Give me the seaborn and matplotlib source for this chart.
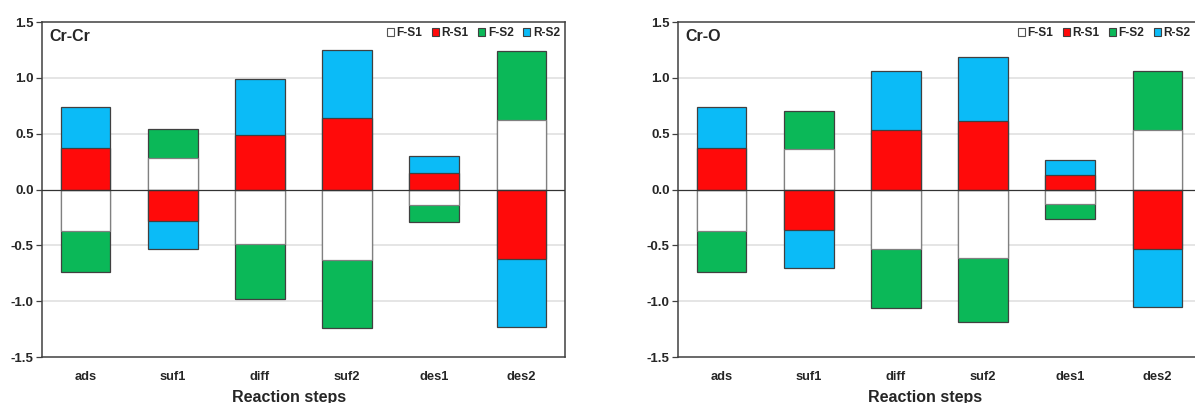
import numpy as np
import pandas as pd
import seaborn as sns
import matplotlib.pyplot as plt
from matplotlib.patches import Patch

steps = ['ads', 'suf1', 'diff', 'suf2', 'des1', 'des2']

# Cr-Cr segment values (S2 segments stack on top of S1 in the same direction)
crcr_fs1 = [-0.37, 0.28, -0.49, -0.63, -0.14, 0.62]
crcr_rs1 = [0.37, -0.28, 0.49, 0.64, 0.15, -0.62]
crcr_fs2 = [-0.37, 0.26, -0.49, -0.61, -0.15, 0.62]
crcr_rs2 = [0.37, -0.25, 0.50, 0.61, 0.15, -0.61]

# Cr-O segment values
cro_fs1 = [-0.37, 0.36, -0.53, -0.61, -0.13, 0.53]
cro_rs1 = [0.37, -0.36, 0.53, 0.61, 0.13, -0.53]
cro_fs2 = [-0.37, 0.34, -0.53, -0.58, -0.13, 0.53]
cro_rs2 = [0.37, -0.34, 0.53, 0.58, 0.13, -0.52]

panels = [('Cr-Cr', crcr_fs1, crcr_rs1, crcr_fs2, crcr_rs2),
          ('Cr-O', cro_fs1, cro_rs1, cro_fs2, cro_rs2)]

c_white = '#FFFFFF'
c_red = '#FF0A0A'
c_green = '#0BB858'
c_blue = '#0BBBF7'
edge = '#404040'

sns.set_theme(style='white')
plt.rcParams['font.family'] = ['Liberation Sans', 'DejaVu Sans']
plt.rcParams['font.weight'] = 'bold'

fig = plt.figure(figsize=(11.95, 4.03), dpi=100)
ax_l = fig.add_axes([42 / 1195, 46 / 403, 523 / 1195, 335 / 403])
ax_r = fig.add_axes([678 / 1195, 46 / 403, 523 / 1195, 335 / 403])

for ax, (name, fs1, rs1, fs2, rs2) in zip([ax_l, ax_r], panels):
    df = pd.DataFrame({'step': steps, 'fs1': fs1, 'rs1': rs1,
                       'fs2': fs2, 'rs2': rs2})
    df['f_tot'] = df['fs1'] + df['fs2']
    df['r_tot'] = df['rs1'] + df['rs2']

    for ycol, col, ec in [('f_tot', c_green, edge), ('r_tot', c_blue, edge),
                          ('fs1', c_white, '#808080'), ('rs1', c_red, edge)]:
        sns.barplot(data=df, x='step', y=ycol, order=steps, color=col,
                    width=0.57, edgecolor=ec, linewidth=0.9, saturation=1,
                    ax=ax, zorder=3)

    ax.set_ylim(-1.5, 1.5)
    ax.set_xlim(-0.5, 5.5)
    ax.set_yticks(np.arange(-1.5, 1.51, 0.5))
    ax.set_yticklabels([f'{v:.1f}' for v in np.arange(-1.5, 1.51, 0.5)],
                       fontsize=9.5, fontweight='bold')
    ax.set_xticks(range(len(steps)))
    ax.set_xticklabels(steps, fontsize=9.3, fontweight='bold')
    for v in [-1.0, -0.5, 0.5, 1.0]:
        ax.axhline(v, color='#e3e3e3', lw=1.3, zorder=1)
    ax.axhline(0, color='#333333', lw=0.9, zorder=4)
    ax.tick_params(axis='y', left=True, length=4, width=0.9, color=edge, pad=2)
    ax.tick_params(axis='x', bottom=False, pad=4)
    for s in ax.spines.values():
        s.set_color(edge)
        s.set_linewidth(1.1)
    ax.set_ylabel('')
    ax.set_xlabel('Reaction steps', fontsize=11.5, fontweight='bold', va='center')
    ax.xaxis.set_label_coords(0.472, -0.121)
    ax.text(0.015, 0.958, name, transform=ax.transAxes, ha='left', va='center',
            fontsize=11.5, fontweight='bold')

    handles = [Patch(facecolor=c_white, edgecolor='#555555', lw=0.8, label='F-S1'),
               Patch(facecolor=c_red, edgecolor=edge, lw=0.8, label='R-S1'),
               Patch(facecolor=c_green, edgecolor=edge, lw=0.8, label='F-S2'),
               Patch(facecolor=c_blue, edgecolor=edge, lw=0.8, label='R-S2')]
    ax.legend(handles=handles, loc='center right', ncol=4, frameon=False,
              handlelength=0.6, handleheight=0.6, handletextpad=0.2,
              columnspacing=0.8, borderaxespad=0, borderpad=0.2,
              bbox_to_anchor=(0.995 if ax is ax_l else 0.985, 0.967),
              prop={'weight': 'bold', 'size': 8.6})

fig.savefig('out.png', dpi=100)
